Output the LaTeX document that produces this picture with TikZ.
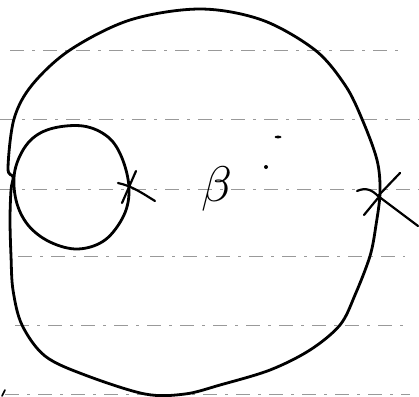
\documentclass[tikz,border=0pt]{standalone}
\usepackage{graphicx}
\begin{document}
\begin{tikzpicture}[x=1pt,y=-1pt,
  ruled/.style={draw=black!40,line width=0.8pt,dash pattern=on 14pt off 8pt on 3pt off 8pt},
  pen/.style={draw=black,line width=2.8pt,line cap=round,line join=round}]
\useasboundingbox (0,0) rectangle (419,396);
\fill[white] (0,0) rectangle (419,396);
% ruled lines of the paper
\draw[ruled] (10,50) -- (400,50);
\draw[ruled] (0,119) -- (419,119);
\draw[ruled] (0,189) -- (419,189);
\draw[ruled] (18,256) -- (405,256);
\draw[ruled] (15,325) -- (405,325);
\draw[ruled] (5,394) -- (410,394);
% outer closed curve
\draw[pen] plot[smooth cycle,tension=0.55] coordinates {
  (8,168) (14,119) (32,85) (70,50) (130,20) (200,9) (262,20) (315,50) (345,85) (362,119)
  (377,160) (380,192) (376,225) (370,256) (355,295) (340,325) (310,350) (270,370)
  (220,385) (185,394) (145,394) (85,375) (45,356) (22,325) (13,290) (11,256) (10,220) (11,190) (13,177)};
% inner loop
\draw[pen] plot[smooth cycle,tension=0.6] coordinates {
  (15,170) (28,143) (50,129) (83,126) (108,137) (122,158) (129,188) (124,215)
  (105,240) (78,249) (50,242) (28,225) (16,200)};
% cross marks
\draw[pen,line width=2.2pt] (118,183) .. controls (132,186) and (142,193) .. (155,201);
\draw[pen,line width=2.2pt] (136,171) -- (122,203);
\draw[pen,line width=2.2pt] (400,173) -- (378,196);
\draw[pen,line width=2.2pt] (357,191) .. controls (366,187) and (372,190) .. (378,196) -- (418,226);
\draw[pen,line width=2.2pt] (364,215) -- (378,198);
% label and dots
\node (beta) at (217,189) {\scalebox{5}{$\beta$}};
\fill (278,137) ellipse (3.5pt and 1.4pt);
\fill (266,167) circle (2pt);
\draw[pen,line width=1.6pt] (2,396) -- (5,390);
\end{tikzpicture}
\end{document}
